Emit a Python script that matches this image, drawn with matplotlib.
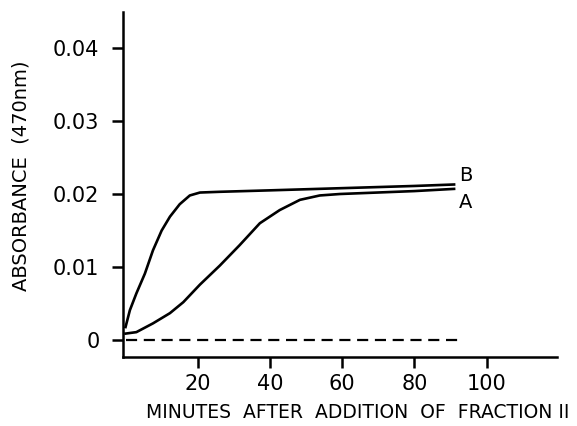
import matplotlib.pyplot as plt
import matplotlib

matplotlib.rcParams['font.family'] = 'DejaVu Sans'
matplotlib.rcParams['font.size'] = 14

# valores
minutes_b = [0, 1.2, 3.0, 5.35, 7.6, 10.0, 12.3, 15.0, 17.8, 20.6, 26,
             40, 60, 80, 91]
absorb_b = [0.0018, 0.0041, 0.0064, 0.0091, 0.0123, 0.0150, 0.0169, 0.0186,
            0.0198, 0.0202, 0.0203, 0.0205, 0.0208, 0.0211, 0.0213]

minutes_a = [0, 3.0, 7.6, 12.3, 16.0, 20.6, 26.1, 31.6, 37.2, 42.7, 48.3,
             53.8, 59.4, 80, 91]
absorb_a = [0.0009, 0.0011, 0.0023, 0.0037, 0.0052, 0.0076, 0.0102, 0.0130,
            0.0160, 0.0178, 0.0192, 0.0198, 0.0200, 0.0204, 0.0207]

minutes_ctrl = [0, 92]
absorb_ctrl = [0, 0]

x_ticks = [20, 40, 60, 80, 100]
y_ticks = [0, 0.01, 0.02, 0.03, 0.04]
y_tick_labels = ['0', '0.01', '0.02', '0.03', '0.04']

fig = plt.figure(figsize=(5.77, 4.26), dpi=100)
ax = fig.add_axes([0.2132, 0.162, 0.7521, 0.8098])

ax.plot(minutes_b, absorb_b, color='black', linewidth=1.9,
        solid_joinstyle='round')
ax.plot(minutes_a, absorb_a, color='black', linewidth=1.9,
        solid_joinstyle='round')
ax.plot(minutes_ctrl, absorb_ctrl, color='black', linewidth=1.6,
        linestyle=(0, (5, 3)))

ax.text(92.3, 0.0225, 'B', fontsize=14, ha='left', va='center')
ax.text(92.3, 0.0188, 'A', fontsize=14, ha='left', va='center')

ax.set_xlim(-0.7, 119.5)
ax.set_ylim(-0.0023, 0.0449)

for side in ['top', 'right']:
    ax.spines[side].set_visible(False)
for side in ['left', 'bottom']:
    ax.spines[side].set_linewidth(1.8)

ax.set_xticks(x_ticks)
ax.set_yticks(y_ticks)
ax.set_yticklabels(y_tick_labels)
ax.tick_params(axis='both', direction='out', length=8, width=1.8,
               labelsize=15)
ax.tick_params(axis='x', pad=4)
ax.tick_params(axis='y', pad=9)

ax.set_xlabel('MINUTES  AFTER  ADDITION  OF  FRACTION II', fontsize=13.5)
ax.set_ylabel('ABSORBANCE  (470nm)', fontsize=14)
ax.xaxis.set_label_coords(0.54, -0.133)
ax.yaxis.set_label_coords(-0.214, 0.525)

fig.savefig('out.png', dpi=100)
